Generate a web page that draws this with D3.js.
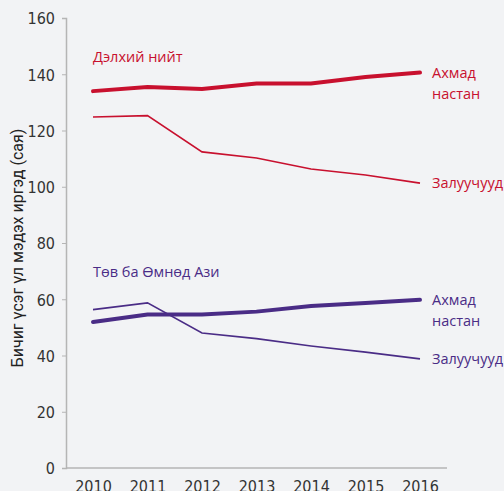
<!DOCTYPE html>
<html>
<head>
<meta charset="utf-8">
<script src="https://cdn.jsdelivr.net/npm/d3@7"></script>
<style>
  html, body { margin: 0; padding: 0; background: #f2f3f5; }
  svg { display: block; }
  .tick text { font-family: "Liberation Sans Narrow", "DejaVu Sans Condensed", sans-serif; fill: #333; }
</style>
</head>
<body>
<svg id="chart" width="504" height="491"></svg>
<script>
const years = [2010, 2011, 2012, 2013, 2014, 2015, 2016];
const yTicks = [0, 20, 40, 60, 80, 100, 120, 140, 160];

// сая хүн
const worldOld = [134.0, 135.5, 134.8, 136.7, 136.7, 139.0, 140.6];
const worldYoung = [124.8, 125.3, 112.4, 110.2, 106.3, 104.2, 101.3];
const asiaOld = [51.9, 54.6, 54.6, 55.6, 57.6, 58.7, 59.8];
const asiaYoung = [56.3, 58.7, 48.0, 46.0, 43.4, 41.2, 38.8];

const seriesLabels = { old: ["Ахмад", "настан"], young: ["Залуучууд"] };
const regions = [
  { name: "Дэлхий нийт", color: "#c8102e", old: worldOld, young: worldYoung, titleValue: 144.2 },
  { name: "Төв ба Өмнөд Ази", color: "#4a2c86", old: asiaOld, young: asiaYoung, titleValue: 67.8 }
];

const svg = d3.select("#chart");
const margin = { left: 66, top: 18, right: 57, bottom: 23 };
const width = 504, height = 491;

const x = d3.scalePoint()
  .domain(years)
  .range([93, 420]);

const y = d3.scaleLinear()
  .domain([0, 160])
  .range([height - margin.bottom, margin.top]);

// y axis
const yAxis = svg.append("g")
  .attr("transform", `translate(${margin.left},0)`)
  .call(d3.axisLeft(y).tickValues(yTicks).tickSize(4).tickPadding(7));
yAxis.select(".domain").attr("stroke", "#b5b5b5").attr("stroke-width", 1.5);
yAxis.selectAll(".tick line").attr("stroke", "#b5b5b5");
yAxis.selectAll(".tick text").attr("font-size", 16).attr("dy", "0.36em");

// x axis
const xAxis = svg.append("g")
  .attr("transform", `translate(0,${y(0)})`)
  .call(d3.axisBottom(x).tickSize(0).tickPadding(10).tickFormat(d3.format("d")));
xAxis.select(".domain").attr("d", `M${margin.left},0H447`).attr("stroke", "#b5b5b5").attr("stroke-width", 1.5);
xAxis.selectAll(".tick text").attr("font-size", 16).attr("dy", "0.85em");

svg.append("text")
  .attr("transform", `translate(23,${(y(0) + y(160)) / 2 + 5}) rotate(-90)`)
  .attr("text-anchor", "middle")
  .attr("font-family", "Roboto, sans-serif")
  .attr("font-size", 16)
  .attr("fill", "#222")
  .text("Бичиг үсэг үл мэдэх иргэд (сая)");

const line = d3.line()
  .x((d, i) => x(years[i]))
  .y(d => y(d));

const labelFont = "'Open Sans', sans-serif";

regions.forEach(r => {
  const g = svg.append("g");

  g.append("path")
    .datum(r.young)
    .attr("d", line)
    .attr("fill", "none")
    .attr("stroke", r.color)
    .attr("stroke-width", 1.6);

  g.append("path")
    .datum(r.old)
    .attr("d", line)
    .attr("fill", "none")
    .attr("stroke", r.color)
    .attr("stroke-width", 4)
    .attr("stroke-linecap", "round");

  g.append("text")
    .attr("x", x(years[0]))
    .attr("y", y(r.titleValue))
    .attr("font-family", labelFont)
    .attr("font-size", 14.5)
    .attr("fill", r.color)
    .text(r.name);

  const last = years.length - 1;
  const oldText = g.append("text")
    .attr("x", x(years[last]) + 12)
    .attr("y", y(r.old[last]) + 5)
    .attr("font-family", labelFont)
    .attr("font-size", 14.5)
    .attr("fill", r.color);
  seriesLabels.old.forEach((t, i) => {
    oldText.append("tspan")
      .attr("x", x(years[last]) + 12)
      .attr("dy", i === 0 ? 0 : 21)
      .text(t);
  });

  g.append("text")
    .attr("x", x(years[last]) + 12)
    .attr("y", y(r.young[last]) + 5)
    .attr("font-family", labelFont)
    .attr("font-size", 14.5)
    .attr("fill", r.color)
    .text(seriesLabels.young[0]);
});
</script>
</body>
</html>
